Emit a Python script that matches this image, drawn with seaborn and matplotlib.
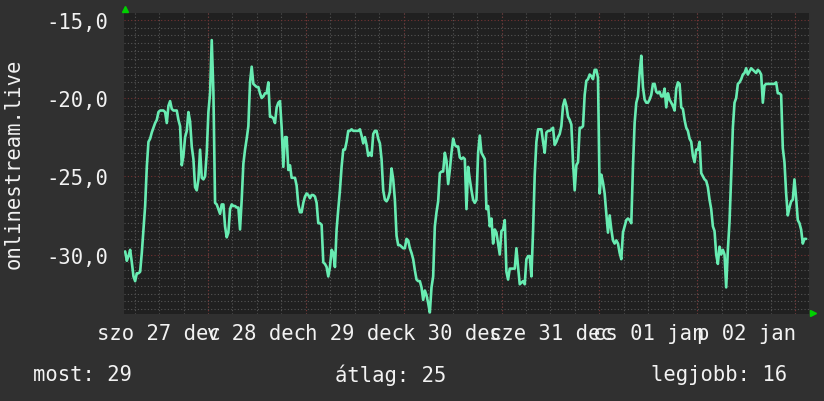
import matplotlib
matplotlib.use("Agg")
import numpy as np
import pandas as pd
import seaborn as sns
from matplotlib import pyplot as plt
from matplotlib import dates as mdates
from matplotlib.ticker import MultipleLocator, FixedLocator

# readings, one every ~24.5 minutes, from Dec 27 03:41 onwards
seg1 = [-29.8, -30.4, -30.1, -29.7, -30.5, -31.4, -31.7, -31.2, -31.2, -31.1,
        -29.9, -28.4, -26.9, -24.4, -22.8, -22.6, -22.2, -21.9, -21.6, -21.4,
        -20.9, -20.8, -20.8, -20.8, -20.9, -21.6, -20.5, -20.2, -20.7, -20.8,
        -20.8, -20.8, -21.4, -21.8, -24.3, -23.7, -22.5, -22.1, -20.9, -21.5,
        -23.1, -23.9, -25.7, -25.9, -25.2, -23.3, -25.1, -25.2, -25.0, -23.5,
        -20.9, -19.7, -16.3, -19.6, -26.7, -26.8, -27.1, -27.4, -26.8, -26.8,
        -28.2, -28.9, -28.6, -27.1, -26.8, -26.9, -26.9, -27.0, -27.0, -28.4,
        -26.5, -24.2, -23.3, -22.6, -21.8, -19.0, -18.0, -19.1]
seg2 = [-19.2, -19.3, -19.3, -19.7, -20.0, -19.9, -19.7, -19.7, -19.0, -21.2,
        -21.2, -21.3, -21.6, -20.6, -20.3, -20.2, -21.9, -24.4, -22.5, -22.5,
        -24.6, -24.3, -25.1, -25.1, -25.1, -25.6, -26.8, -27.3, -27.3, -26.7,
        -26.3, -26.1, -26.2, -26.4, -26.2, -26.2, -26.3, -26.7, -28.0, -28.0,
        -28.1, -30.5, -30.6, -30.8, -31.4, -30.8, -29.7, -29.9, -30.8, -28.4,
        -27.1, -25.9, -24.4, -23.3, -23.3, -22.8, -22.1, -22.1, -22.0, -22.1,
        -22.1, -22.1, -22.1, -22.0, -22.4, -22.9, -22.5, -23.0, -23.7, -23.5,
        -23.7, -22.3, -22.1, -22.1, -22.6, -22.9, -23.9, -25.9, -26.5, -26.6,
        -26.4]
seg3 = [-26.0, -24.5, -25.2, -26.5, -28.8, -29.4, -29.4, -29.5, -29.6, -29.6,
        -29.0, -29.1, -29.6, -29.9, -30.3, -31.0, -31.6, -31.7, -31.7, -32.1,
        -32.9, -32.3, -32.6, -33.1, -33.7, -32.1, -31.4, -28.2, -27.3, -26.6,
        -24.8, -24.7, -24.7, -23.5, -24.0, -25.5, -24.6, -23.5, -22.6, -23.0,
        -23.1, -23.1, -23.8, -23.9, -23.8, -23.9, -27.1, -24.4, -25.2, -25.9,
        -26.5, -26.7, -26.5, -23.5, -22.4, -23.5, -23.7, -23.9, -27.1, -26.9,
        -28.2, -27.7, -29.3, -28.4, -28.6, -29.3, -30.0, -28.5, -28.4, -27.8,
        -31.1, -31.6, -30.9, -30.9, -30.9, -30.9, -29.6, -30.8, -31.9, -31.8,
        -31.7]
seg4 = [-31.9, -30.3, -30.1, -30.1, -31.4, -28.5, -24.9, -22.8, -22.0, -22.0,
        -22.0, -22.8, -23.5, -22.2, -22.1, -22.1, -22.0, -21.9, -23.0, -22.8,
        -22.5, -22.3, -21.8, -20.5, -20.1, -20.5, -21.2, -21.4, -21.7, -24.1,
        -25.9, -24.3, -24.1, -21.9, -21.9, -21.8, -19.8, -18.9, -18.8, -18.5,
        -18.6, -18.8, -18.2, -18.2, -18.7, -26.1, -24.9, -25.4, -26.1, -27.4,
        -28.6, -27.5, -28.4, -29.1, -29.3, -29.1, -29.3, -29.9, -30.3, -28.6,
        -28.2, -27.8, -27.7, -27.8, -28.0, -24.4, -21.6, -20.3, -19.9, -18.4,
        -17.3, -19.3, -20.1, -20.3, -20.3, -20.1, -19.8, -19.1, -19.1, -19.6,
        -19.7]
seg5 = [-19.6, -19.9, -19.9, -19.4, -20.6, -19.7, -20.1, -20.3, -20.5, -20.8,
        -19.4, -19.0, -19.1, -20.6, -20.7, -21.4, -21.9, -22.1, -22.6, -22.8,
        -23.7, -24.1, -23.3, -23.3, -22.8, -24.8, -25.0, -25.2, -25.3, -25.7,
        -26.5, -27.1, -28.2, -28.5, -30.0, -30.6, -29.5, -30.0, -29.7, -30.0,
        -32.1, -29.7, -27.9, -25.0, -21.9, -20.3, -20.0, -19.1, -19.0, -18.8,
        -18.5, -18.4, -18.1, -18.5, -18.3, -18.1, -18.2, -18.3, -18.4, -18.2,
        -18.3, -18.5, -20.3, -19.2, -19.1, -19.1, -19.1, -19.1, -19.1, -19.1,
        -19.0, -19.7, -19.7, -19.8, -23.2, -24.1, -26.1, -27.5, -27.0, -26.6,
        -26.5, -25.2, -26.4, -27.8, -28.0, -28.4, -29.3, -29.0, -29.0]

day_noons = ["2025-12-27 12:00", "2025-12-28 12:00", "2025-12-29 12:00", "2025-12-30 12:00",
             "2025-12-31 12:00", "2026-01-01 12:00", "2026-01-02 12:00"]
day_labels = ["szo 27 dec", "v 28 dec", "h 29 dec", "k 30 dec",
              "sze 31 dec", "cs 01 jan", "p 02 jan"]
y_ticks = [-15, -20, -25, -30]
y_ticklabels = ["-15,0", "-20,0", "-25,0", "-30,0"]
stats = [("most", 29), ("átlag", 25), ("legjobb", 16)]

BG = "#303030"
PLOT_BG = "#202020"
LINE = "#68ecb2"
MINOR = "#555555"
MAJOR = "#733333"
TXT = "#f2f2f2"
ARROW = "#00d000"

values = seg1 + seg2 + seg3 + seg4 + seg5
times = pd.date_range("2025-12-27 03:41", periods=len(values), freq=pd.Timedelta(minutes=24.5))
df = pd.DataFrame({"time": times, "value": values})

sns.set_style("dark")
plt.rcParams["font.family"] = ["DejaVu Sans Mono", "DejaVu Sans"]
plt.rcParams["font.size"] = 14.8

fig = plt.figure(figsize=(8.24, 4.02), dpi=100, facecolor=BG)
ax = fig.add_axes([124 / 824, 1 - 315 / 402, 685 / 824, 301 / 402])
ax.set_facecolor(PLOT_BG)

sns.lineplot(data=df, x="time", y="value", ax=ax, color=LINE, linewidth=1.9, zorder=5)

ax.set_xlim(pd.Timestamp("2025-12-27 03:24"), pd.Timestamp("2026-01-03 03:24"))
ax.set_ylim(-33.8, -14.57)

# grid: dotted gray minor, dotted red major
dots = (0, (1, 2))
ax.xaxis.set_major_locator(FixedLocator(mdates.date2num(pd.to_datetime(day_noons))))
ax.set_xticklabels(day_labels)
ax.xaxis.set_minor_locator(mdates.HourLocator(byhour=[0, 6, 12, 18]))
ax.xaxis.remove_overlapping_locs = False
ax.yaxis.set_major_locator(FixedLocator(y_ticks))
ax.set_yticklabels(y_ticklabels)
ax.yaxis.set_minor_locator(MultipleLocator(0.5))
ax.grid(False)
ax.grid(which="minor", color=MINOR, linestyle=dots, linewidth=0.8)
ax.grid(which="major", axis="y", color=MAJOR, linestyle=dots, linewidth=0.8)
for d in pd.date_range("2025-12-28", "2026-01-03", freq="D"):
    ax.axvline(d, color=MAJOR, linestyle=dots, linewidth=0.8, zorder=1)
ax.set_axisbelow(True)

ax.tick_params(which="both", length=0, colors=TXT, labelsize=14.8)
ax.tick_params(axis="x", pad=6.5)
ax.tick_params(axis="y", pad=11)
for s in ax.spines.values():
    s.set_visible(False)
ax.set_xlabel("")
ax.set_ylabel("")

# rrd style arrows on the axes ends
ax.plot([0.002], [1.012], marker="^", ms=5, color=ARROW, transform=ax.transAxes, clip_on=False)
ax.plot([1.006], [0.003], marker=">", ms=5, color=ARROW, transform=ax.transAxes, clip_on=False)

fig.text(14 / 824, 1 - 164 / 402, "onlinestream.live", rotation=90, color=TXT,
         ha="center", va="center", fontsize=14.8)
xs = [33, 335, 651]
for (name, val), xp in zip(stats, xs):
    fig.text(xp / 824, 1 - 375 / 402, f"{name}: {val}", color=TXT, ha="left", va="center", fontsize=14.8)

fig.savefig("out.png", dpi=100, facecolor=BG)
